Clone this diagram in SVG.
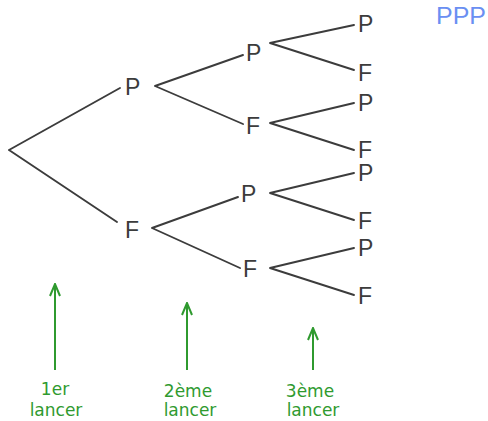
<svg xmlns="http://www.w3.org/2000/svg" width="488" height="421" viewBox="0 0 488 421">
<defs>
<style>
.t{font-family:"Liberation Sans",Arial,sans-serif;font-size:23px;fill:#3c3c3c}
.e{stroke:#3c3c3c;stroke-width:1.9;fill:none;stroke-linecap:round}
.g{stroke:#2f9a2f;stroke-width:2;fill:none}
.lab{font-family:"DejaVu Sans",sans-serif;font-size:17px;fill:#2f9a2f;text-anchor:middle}
.res{font-family:"Liberation Sans",Arial,sans-serif;font-size:23px;fill:#6a8ff2}
</style>
<marker id="ah" viewBox="0 0 14 12" refX="13" refY="6" markerWidth="14" markerHeight="12" markerUnits="userSpaceOnUse" orient="auto">
<path d="M1,1 L13,6 L1,11" fill="none" stroke="#2f9a2f" stroke-width="2"/>
</marker>
</defs>
<rect width="488" height="421" fill="#fff"/>
<g id="connectors">
<path class="e" d="M9,150 L120,88 M9,150 L117,222"/>
<path class="e" d="M155,86 L243,55 M155,86 L243,124"/>
<path class="e" d="M152,228 L238,197 M152,228 L240,268"/>
<path class="e" d="M270,43 L354,25 M270,43 L354,70"/>
<path class="e" d="M270,123 L354,103 M270,123 L354,150"/>
<path class="e" d="M270,193 L354,173 M270,193 L354,220"/>
<path class="e" d="M270,268 L354,248 M270,268 L354,295"/>
</g>
<g id="n1P"><text class="t" x="125" y="95">P</text></g>
<g id="n1F"><text class="t" x="125" y="238">F</text></g>
<g id="n2P1"><text class="t" x="246" y="61">P</text></g>
<g id="n2F1"><text class="t" x="246" y="134">F</text></g>
<g id="n2P2"><text class="t" x="241" y="202">P</text></g>
<g id="n2F2"><text class="t" x="243" y="277">F</text></g>
<g id="n3P1"><text class="t" x="358" y="32">P</text></g>
<g id="n3F1"><text class="t" x="358" y="81">F</text></g>
<g id="n3P2"><text class="t" x="358" y="111">P</text></g>
<g id="n3F2"><text class="t" x="358" y="158">F</text></g>
<g id="n3P3"><text class="t" x="358" y="181">P</text></g>
<g id="n3F3"><text class="t" x="358" y="229">F</text></g>
<g id="n3P4"><text class="t" x="358" y="256">P</text></g>
<g id="n3F4"><text class="t" x="358" y="304">F</text></g>
<g id="result"><text class="res" x="436" y="24" textLength="50" lengthAdjust="spacingAndGlyphs">PPP</text></g>
<g id="arrows">
<line class="g" x1="55" y1="370" x2="55" y2="284" marker-end="url(#ah)"/>
<line class="g" x1="187" y1="370" x2="187" y2="303" marker-end="url(#ah)"/>
<line class="g" x1="313" y1="370" x2="313" y2="328" marker-end="url(#ah)"/>
</g>
<g id="labels">
<text class="lab" x="55" y="395">1er</text>
<text class="lab" x="56" y="416">lancer</text>
<text class="lab" x="188" y="397">2ème</text>
<text class="lab" x="190" y="416">lancer</text>
<text class="lab" x="310" y="397">3ème</text>
<text class="lab" x="313" y="416">lancer</text>
</g>
</svg>
